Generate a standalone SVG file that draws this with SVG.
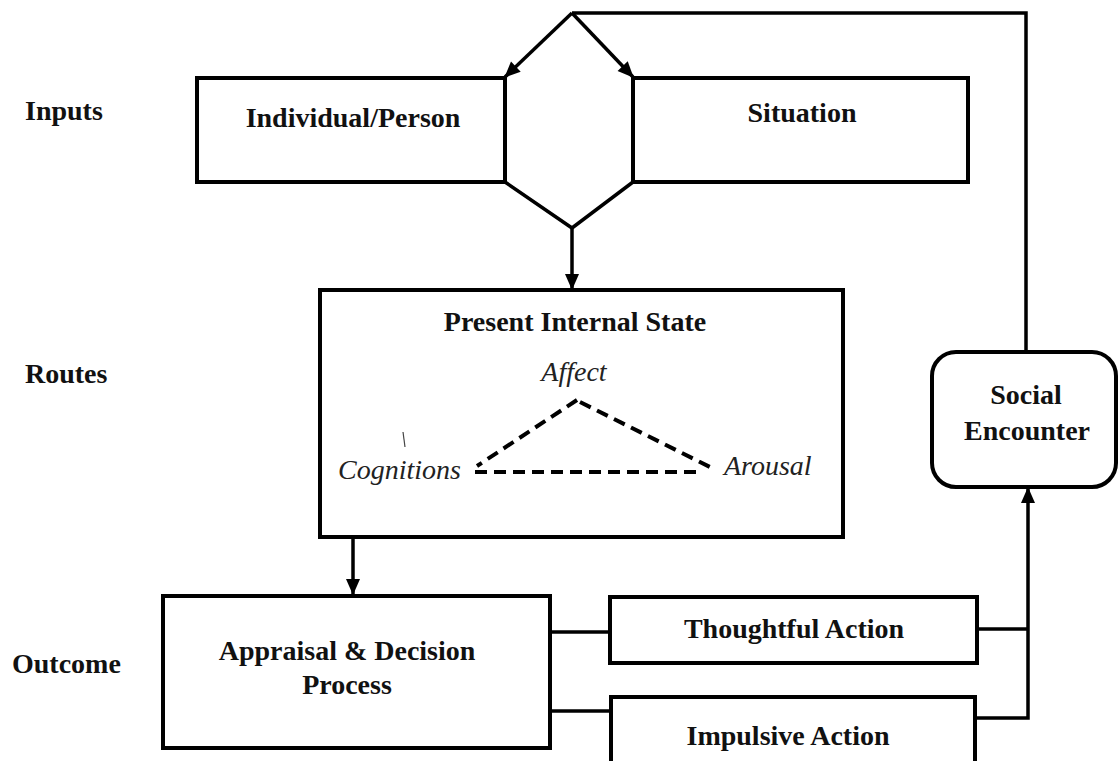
<svg xmlns="http://www.w3.org/2000/svg" width="1118" height="761" viewBox="0 0 1118 761">
<defs>
<marker id="ah" viewBox="0 0 16 14" refX="15" refY="7" markerWidth="16" markerHeight="14" markerUnits="userSpaceOnUse" orient="auto" style="overflow:visible">
<path d="M0,0 L16,7 L0,14 Z" fill="#000"/>
</marker>
<style>
.box{fill:#fff;stroke:#000;stroke-width:4}
.ln{fill:none;stroke:#000;stroke-width:3.5}
.dash{fill:none;stroke:#000;stroke-width:4;stroke-dasharray:12,7}
.b{font-family:"Liberation Serif",serif;font-weight:bold;font-size:28px;fill:#111;text-anchor:middle}
.lab{font-family:"Liberation Serif",serif;font-weight:bold;font-size:28px;fill:#111}
.it{font-family:"Liberation Serif",serif;font-style:italic;font-size:28px;fill:#222}
</style>
</defs>
<rect width="1118" height="761" fill="#fff"/>
<g id="labels">
<text class="lab" x="25" y="120">Inputs</text>
<text class="lab" x="25" y="383">Routes</text>
<text class="lab" x="12" y="673">Outcome</text>
</g>
<g id="connectors">
<path class="ln" d="M572,13 L1026,13 L1026,352"/>
<path class="ln" d="M572,13 L505,77" marker-end="url(#ah)"/>
<path class="ln" d="M572,13 L633,77" marker-end="url(#ah)"/>
<path class="ln" d="M505,182 L572,228 L633,182"/>
<path class="ln" d="M572,228 L572,289" marker-end="url(#ah)"/>
<path class="ln" d="M353,538 L353,594" marker-end="url(#ah)"/>
<path class="ln" d="M550,632 L610,632"/>
<path class="ln" d="M550,711 L611,711"/>
<path class="ln" d="M977,629 L1028,629"/>
<path class="ln" d="M975,718 L1028,718 L1028,488" marker-end="url(#ah)"/>
</g>
<g id="individual">
<rect class="box" x="197" y="78" width="308" height="104"/>
<text class="b" x="353" y="127">Individual/Person</text>
</g>
<g id="situation">
<rect class="box" x="633" y="78" width="335" height="104"/>
<text class="b" x="802" y="122">Situation</text>
</g>
<g id="hexagon">
<path class="ln" d="M505,78 L505,182 M633,78 L633,182"/>
</g>
<g id="internal-state">
<rect class="box" x="320" y="290" width="523" height="247"/>
<text class="b" x="575" y="331">Present Internal State</text>
<text class="it" x="574" y="381" text-anchor="middle">Affect</text>
<text class="it" x="338" y="479">Cognitions</text>
<text class="it" x="724" y="475">Arousal</text>
<path d="M403,432 L405,447" fill="none" stroke="#444" stroke-width="1.2"/>
<path class="dash" d="M577,400 L477,466"/>
<path class="dash" d="M580,402 L712,468"/>
<path class="dash" d="M475,472 L700,472"/>
</g>
<g id="appraisal">
<rect class="box" x="163" y="596" width="387" height="152"/>
<text class="b" x="347" y="660">Appraisal &amp; Decision</text>
<text class="b" x="347" y="694">Process</text>
</g>
<g id="thoughtful">
<rect class="box" x="610" y="597" width="367" height="66"/>
<text class="b" x="794" y="638">Thoughtful Action</text>
</g>
<g id="impulsive">
<rect class="box" x="611" y="697" width="364" height="80"/>
<text class="b" x="788" y="745">Impulsive Action</text>
</g>
<g id="social">
<rect class="box" x="932" y="352" width="184" height="135" rx="24"/>
<text class="b" x="1026" y="404">Social</text>
<text class="b" x="1027" y="440">Encounter</text>
</g>
</svg>
